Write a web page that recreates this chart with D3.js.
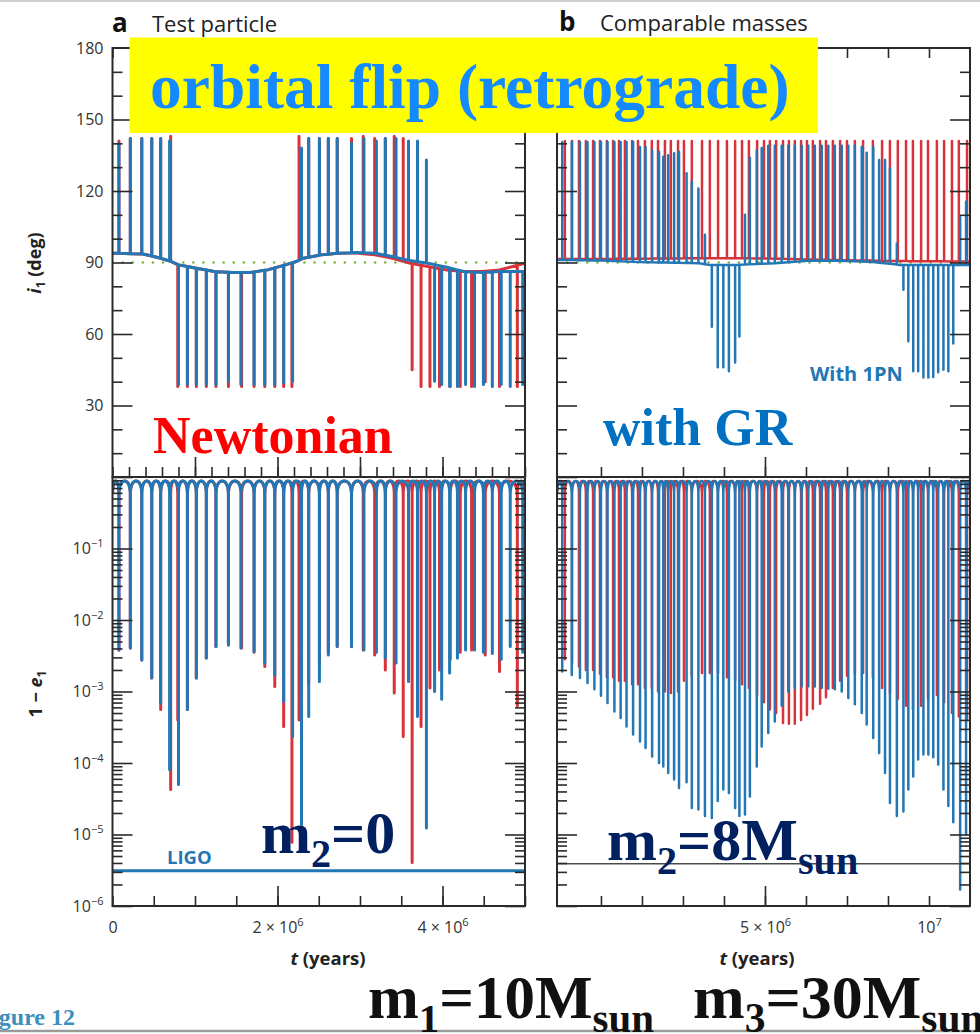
<!DOCTYPE html>
<html>
<head>
<meta charset="utf-8">
<script src="https://d3js.org/d3.v7.min.js"></script>
<style>
  html,body{margin:0;padding:0;background:#fff;}
  svg{display:block;}
</style>
</head>
<body>
<svg id="chart" width="980" height="1034" xmlns="http://www.w3.org/2000/svg"></svg>
<script>
/* ================= DATA ================= */
// axis tick values and labels
const iLabelValues = [30, 60, 90, 120, 150, 180];
const iMajorTicks  = [30, 60, 90, 120, 150];
const iMinorTicks  = [10, 20, 40, 50, 70, 80, 100, 110, 130, 140, 160, 170];
const eLabelValues = [1e-1, 1e-2, 1e-3, 1e-4, 1e-5, 1e-6];
const eLabelExps   = ["\u22121", "\u22122", "\u22123", "\u22124", "\u22125", "\u22126"];
const aXLabelValues = [0, 2e6, 4e6];
const aXLabelBase   = ["0", "2 \u00d7 10", "4 \u00d7 10"];
const aXLabelExp    = ["", "6", "6"];
const bXLabelValues = [5e6, 1e7];
const bXLabelBase   = ["5 \u00d7 10", "10"];
const bXLabelExp    = ["6", "7"];

// ---- Panel a (test particle) : inclination baseline (t in Myr, i in deg)
const aBaseT    = [0, 0.367, 0.584, 0.713, 0.800, 1.016, 1.232, 1.448, 1.664, 1.881, 2.097, 2.227, 2.313, 2.529, 2.745, 2.962, 3.178, 3.394, 3.610, 3.826, 4.042, 4.259, 4.475, 4.691, 4.850, 5.000];
const aBaseBlue = [93.9, 93.6, 91.8, 90.4, 89.0, 87.6, 86.2, 85.8, 85.8, 86.9, 89.0, 90.4, 91.8, 93.2, 93.9, 94.2, 93.9, 92.5, 90.8, 89.7, 88.1, 86.2, 85.8, 86.2, 86.2, 86.2];
const aBaseRed  = [93.9, 93.6, 91.8, 90.4, 89.0, 87.6, 86.2, 85.8, 85.8, 86.9, 89.0, 90.4, 91.8, 93.2, 93.9, 94.0, 93.2, 91.8, 89.7, 88.3, 86.9, 86.2, 86.2, 86.9, 88.3, 89.7];

// Panel a, with 1PN (blue): spike times (Myr), inclination at spike (deg), log10(1-e) at spike
const aBlueT    = [0.078, 0.216, 0.355, 0.476, 0.584, 0.692, 0.800, 0.908, 1.016, 1.137, 1.254, 1.405, 1.556, 1.716, 1.846, 1.967, 2.075, 2.183, 2.291, 2.378, 2.508, 2.616, 2.724, 2.897, 3.048, 3.199, 3.307, 3.437, 3.588, 3.697, 3.805, 3.904, 3.990, 4.086, 4.181, 4.280, 4.388, 4.496, 4.604, 4.712, 4.821, 4.972];
const aBluePeak = [140, 142, 142, 142, 142, 141, 38.8, 38.8, 38.8, 38.8, 38.8, 40.2, 38.8, 38.8, 38.8, 38.8, 39.5, 40.2, 138, 142, 142, 142, 142, 140, 142, 141, 142, 142, 141, 141, 133, 40.2, 38.8, 38, 38, 38.8, 38, 38.8, 38, 38.8, 38, 38.8];
const aBlueMin  = [-2.42, -2.39, -2.56, -2.81, -3.16, -4.09, -4.30, -3.25, -2.81, -2.53, -2.37, -2.35, -2.39, -2.44, -2.60, -2.77, -3.14, -3.63, -4.86, -3.35, -2.86, -2.49, -2.37, -2.37, -2.42, -2.45, -2.53, -2.60, -2.86, -3.35, -4.91, -3.00, -3.11, -2.74, -2.53, -2.42, -2.42, -2.45, -2.47, -2.55, -2.37, -2.45];

// Panel a, Newtonian (red)
const aRedT    = [0.078, 0.216, 0.355, 0.476, 0.584, 0.705, 0.791, 0.908, 1.016, 1.137, 1.254, 1.405, 1.565, 1.716, 1.846, 1.967, 2.075, 2.175, 2.261, 2.378, 2.508, 2.616, 2.724, 2.897, 3.039, 3.178, 3.307, 3.415, 3.524, 3.632, 3.740, 3.848, 3.964, 4.094, 4.215, 4.353, 4.518, 4.691, 4.907];
const aRedPeak = [141, 142, 142, 142, 142, 143, 38, 38, 38, 38, 38, 38, 38, 38, 38, 38, 38, 38, 143, 142, 142, 142, 142, 142, 143, 142, 142, 143, 142, 45, 38, 38, 38, 38, 38, 38, 40, 38, 38];
const aRedMin  = [-2.42, -2.39, -2.56, -2.81, -3.25, -4.37, -3.40, -3.25, -2.81, -2.53, -2.37, -2.35, -2.39, -2.45, -2.65, -2.93, -3.49, -5.11, -3.40, -2.90, -2.60, -2.45, -2.37, -2.37, -2.42, -2.49, -2.70, -3.02, -3.63, -5.39, -3.49, -2.95, -2.70, -2.55, -2.45, -2.42, -2.49, -2.72, -3.20];

// ---- Panel b (comparable masses)
const bBaseT    = [-1.34, 0, 1.2, 3.0, 3.3, 4.2, 5.3, 6.3, 7.3, 8.3, 9.1, 11.25];
const bBaseBlue = [91.1, 90.8, 90.2, 89.7, 89.0, 89.0, 89.7, 90.7, 90.7, 90.2, 89.0, 89.0];
const bBaseRed  = [91.5, 91.5, 91.6, 91.8, 91.8, 91.8, 91.6, 91.3, 91.0, 90.8, 90.6, 90.4];

const bBlueT = [-1.18, -0.89, -0.64, -0.41, -0.20, 0.00, 0.20, 0.41, 0.60, 0.78, 0.98, 1.19, 1.36, 1.56, 1.77, 1.90, 2.05, 2.23, 2.38, 2.61, 2.77, 2.97, 3.17, 3.38, 3.56, 3.73, 3.90, 4.09, 4.22, 4.39, 4.54, 4.75, 4.90, 5.10, 5.30, 5.51, 5.71, 5.91, 6.12, 6.32, 6.52, 6.73, 6.93, 7.13, 7.34, 7.54, 7.74, 7.95, 8.10, 8.30, 8.48, 8.66, 8.81, 9.02, 9.22, 9.37, 9.52, 9.67, 9.83, 9.98, 10.13, 10.28, 10.44, 10.59, 10.74, 10.95, 11.13];
const bBluePeak = [140.6, 140.6, 140.6, 140.6, 140.6, 140.6, 140.6, 140.6, 140.6, 140.6, 140.6, 138.5, 138.5, 137.0, 136.5, 134.4, 135.0, 135.8, 136.5, 127.4, 124.0, 121.0, 101.6, 63.0, 46.0, 46.0, 44.4, 48.0, 59.0, 110.0, 134.0, 137.0, 138.0, 139, 139, 139, 139, 139, 139, 139, 139, 139, 139, 139, 139, 139, 139, 138.5, 136.0, 138.5, 133.0, 133.0, 129.5, 98.0, 78.6, 57.0, 44.4, 44.4, 41.8, 41.8, 42.0, 44.0, 45.0, 44.4, 56.0, 109.0, 115.5];
const bBlueMin = [-2.72, -2.77, -2.81, -2.88, -2.97, -3.06, -3.16, -3.28, -3.37, -3.49, -3.60, -3.70, -3.79, -3.91, -4.00, -4.05, -4.14, -4.23, -4.35, -4.27, -4.63, -4.65, -4.74, -4.77, -4.53, -4.37, -4.42, -4.63, -4.74, -4.72, -4.47, -4.05, -3.77, -3.58, -3.42, -3.20, -3.00, -2.95, -2.93, -2.93, -2.93, -2.95, -2.96, -2.97, -3.00, -3.09, -3.18, -3.30, -3.46, -3.65, -3.86, -4.14, -4.56, -4.74, -4.68, -4.37, -4.19, -3.95, -3.88, -3.88, -3.92, -4.02, -4.37, -4.60, -4.83, -5.77, -5.00];

const bRedT = [-1.10, -0.88, -0.67, -0.46, -0.24, -0.03, 0.18, 0.37, 0.55, 0.73, 0.95, 1.13, 1.34, 1.55, 1.74, 1.95, 2.13, 2.35, 2.53, 2.77, 3.08, 3.32, 3.57, 3.84, 4.09, 4.30, 4.51, 4.76, 4.97, 5.15, 5.34, 5.55, 5.73, 5.91, 6.10, 6.28, 6.46, 6.68, 6.86, 7.07, 7.29, 7.50, 7.74, 7.99, 8.29, 8.57, 8.81, 9.05, 9.30, 9.51, 9.76, 9.97, 10.24, 10.46, 10.70, 10.91, 11.16];
const bRedPeak = [141, 141, 141, 141, 141, 141, 141, 141, 141, 141, 141, 141, 141, 141, 141, 141, 141, 141, 141, 141, 141, 141, 141, 141, 141, 141, 141, 141, 141, 141, 141, 141, 141, 141, 141, 141, 141, 141, 141, 141, 141, 141, 141, 141, 141, 141, 141, 141, 141, 141, 141, 141, 141, 141, 141, 141, 141];
const bRedMin = [-2.55, -2.60, -2.65, -2.70, -2.70, -2.75, -2.80, -2.80, -2.85, -2.85, -2.90, -2.90, -2.95, -2.95, -3.00, -3.00, -3.02, -3.00, -2.85, -2.78, -2.74, -2.74, -2.74, -2.80, -2.84, -2.90, -2.95, -3.05, -3.15, -3.25, -3.30, -3.44, -3.45, -3.45, -3.40, -3.33, -3.24, -3.17, -3.08, -2.95, -2.85, -2.78, -2.74, -2.74, -2.80, -2.95, -3.02, -3.10, -3.20, -3.25, -3.20, -3.10, -3.05, -3.15, -3.30, -3.35, -3.40];

// LIGO band thresholds on 1-e
const ligoA = 3.1e-6;
const ligoB = 3.9e-6;

/* ================= RENDERING ================= */
const svg = d3.select("#chart");
const SANS = "'Open Sans', 'Noto Sans', sans-serif";
const SERIF = "'Liberation Serif', 'Times New Roman', serif";
const BLUE = "#2277b4", RED = "#d8323a", AXIS = "#2a2a2a", GREEN = "#7cb548";
const eShoulder = 0.6, eArchCtrl = 1.0;   // shape of the arch between eccentricity peaks

const yI = d3.scaleLinear().domain([0, 180]).range([477, 48]);
const yE = d3.scaleLog().domain([1e-6, 1]).range([906, 477]);

const panels = [
  { id: "a", x: d3.scaleLinear().domain([0, 5e6]).range([112.5, 525]),
    baseT: aBaseT, baseBlue: aBaseBlue, baseRed: aBaseRed,
    blueT: aBlueT, bluePeak: aBluePeak, blueMin: aBlueMin,
    redT: aRedT, redPeak: aRedPeak, redMin: aRedMin, sw: 3,
    bottomMinor: d3.range(0, 5e6 + 1, 5e5), bottomMajor: [2e6, 4e6],
    midMinor: d3.range(0, 5e6 + 1, 2e5), midMajor: [1e6, 2e6, 3e6, 4e6],
    topMinor: d3.range(0, 5e6 + 1, 5e5) },
  { id: "b", x: d3.scaleLinear().domain([-1.34e6, 1.125e7]).range([557, 970]),
    baseT: bBaseT, baseBlue: bBaseBlue, baseRed: bBaseRed,
    blueT: bBlueT, bluePeak: bBluePeak, blueMin: bBlueMin,
    redT: bRedT, redPeak: bRedPeak, redMin: bRedMin, sw: 2.5,
    bottomMinor: d3.range(0, 1e7 + 1, 1.25e6), bottomMajor: [5e6],
    midMinor: d3.range(0, 1e7 + 1, 1.25e6), midMajor: [5e6],
    topMinor: d3.range(0, 1e7 + 1, 1.25e6) }
];

const defs = svg.append("defs");

function iPoints(baseT, baseV, spT, spP) {
  const bt = baseT.map(t => t * 1e6);
  const base = d3.scaleLinear().domain(bt).range(baseV).clamp(true);
  const ev = [];
  bt.forEach((t, i) => ev.push({ t, k: 0, v: baseV[i] }));
  spT.forEach((t, i) => ev.push({ t: t * 1e6, k: 1, p: spP[i] }));
  ev.sort((a, b) => a.t - b.t || a.k - b.k);
  const pts = [];
  ev.forEach(e => {
    if (e.k === 0) pts.push({ t: e.t, v: e.v });
    else { const b = base(e.t); pts.push({ t: e.t, v: b }, { t: e.t, v: e.p }, { t: e.t, v: b }); }
  });
  return pts;
}

function ePath(x, spT, spMin) {
  const p = d3.path();
  const ys = yE(eShoulder), yc = yE(eArchCtrl);
  const d0 = x.domain();
  let prev = x(d0[0]);
  p.moveTo(prev, ys);
  spT.forEach((t, i) => {
    const xi = x(t * 1e6);
    p.bezierCurveTo(prev, yc, xi, yc, xi, ys);
    p.lineTo(xi, yE(Math.pow(10, spMin[i])));
    p.lineTo(xi, ys);
    prev = xi;
  });
  const xe = x(d0[1]);
  p.bezierCurveTo(prev, yc, xe, yc, xe, ys);
  return p.toString();
}

function tickSet(axisFn, scale, values, size, tx, ty) {
  const g = svg.append("g").attr("transform", `translate(${tx},${ty})`)
    .call(axisFn(scale).tickValues(values).tickSize(size).tickFormat(""));
  g.select(".domain").remove();
  g.selectAll("line").attr("stroke", AXIS).attr("stroke-width", 1.6);
  return g;
}

panels.forEach(P => {
  const x = P.x, [x0, x1] = x.range();
  const w = x1 - x0;
  defs.append("clipPath").attr("id", "clipTop" + P.id).append("rect")
    .attr("x", x0).attr("y", yI(180)).attr("width", w).attr("height", yI(0) - yI(180));
  defs.append("clipPath").attr("id", "clipBot" + P.id).append("rect")
    .attr("x", x0).attr("y", yE(1)).attr("width", w).attr("height", yE(1e-6) - yE(1));

  const gT = svg.append("g").attr("clip-path", `url(#clipTop${P.id})`);
  gT.append("line").attr("x1", x0).attr("x2", x1).attr("y1", yI(90)).attr("y2", yI(90))
    .attr("stroke", GREEN).attr("stroke-width", 2.6).attr("stroke-dasharray", "0.1 10")
    .attr("stroke-linecap", "round");
  const lineI = d3.line().x(d => x(d.t)).y(d => yI(d.v));
  gT.append("path").attr("d", lineI(iPoints(P.baseT, P.baseRed, P.redT, P.redPeak)))
    .attr("fill", "none").attr("stroke", RED).attr("stroke-width", P.sw).attr("stroke-linejoin", "round");
  gT.append("path").attr("d", lineI(iPoints(P.baseT, P.baseBlue, P.blueT, P.bluePeak)))
    .attr("fill", "none").attr("stroke", BLUE).attr("stroke-width", P.sw).attr("stroke-linejoin", "round");

  const gB = svg.append("g").attr("clip-path", `url(#clipBot${P.id})`);
  gB.append("path").attr("d", ePath(x, P.redT, P.redMin))
    .attr("fill", "none").attr("stroke", RED).attr("stroke-width", P.sw).attr("stroke-linejoin", "round");
  gB.append("path").attr("d", ePath(x, P.blueT, P.blueMin))
    .attr("fill", "none").attr("stroke", BLUE).attr("stroke-width", P.sw).attr("stroke-linejoin", "round");
  if (P.id === "a") {
    gB.append("line").attr("x1", x0).attr("x2", x1).attr("y1", yE(ligoA)).attr("y2", yE(ligoA))
      .attr("stroke", BLUE).attr("stroke-width", 3);
  } else {
    gB.append("line").attr("x1", x0).attr("x2", x1).attr("y1", yE(ligoB)).attr("y2", yE(ligoB))
      .attr("stroke", "#4a4a4a").attr("stroke-width", 1.6);
  }

  // ticks - vertical axes
  tickSet(d3.axisLeft, yI, iMajorTicks, -20, x0, 0);
  tickSet(d3.axisLeft, yI, iMinorTicks, -10, x0, 0);
  tickSet(d3.axisRight, yI, iMajorTicks, -20, x1, 0);
  tickSet(d3.axisRight, yI, iMinorTicks, -10, x1, 0);
  const eAll = yE.ticks();
  const eMaj = eAll.filter(v => Math.abs(Math.log10(v) - Math.round(Math.log10(v))) < 1e-9);
  const eMin = eAll.filter(v => !eMaj.includes(v));
  tickSet(d3.axisLeft, yE, eMaj, -20, x0, 0);
  tickSet(d3.axisLeft, yE, eMin, -10, x0, 0);
  tickSet(d3.axisRight, yE, eMaj, -20, x1, 0);
  tickSet(d3.axisRight, yE, eMin, -10, x1, 0);
  // ticks - horizontal axes
  tickSet(d3.axisBottom, x, P.bottomMinor, -10, 0, yE(1e-6));
  tickSet(d3.axisBottom, x, P.bottomMajor, -20, 0, yE(1e-6));
  tickSet(d3.axisBottom, x, P.midMinor, -10, 0, yI(0));
  tickSet(d3.axisBottom, x, P.midMajor, -20, 0, yI(0));
  tickSet(d3.axisTop, x, P.topMinor, -10, 0, yI(180));

  // frames
  svg.append("rect").attr("x", x0).attr("y", yI(180)).attr("width", w).attr("height", yI(0) - yI(180))
    .attr("fill", "none").attr("stroke", AXIS).attr("stroke-width", 2);
  svg.append("rect").attr("x", x0).attr("y", yE(1)).attr("width", w).attr("height", yE(1e-6) - yE(1))
    .attr("fill", "none").attr("stroke", AXIS).attr("stroke-width", 2);

  // x tick labels
  const labVals = P.id === "a" ? aXLabelValues : bXLabelValues;
  const labBase = P.id === "a" ? aXLabelBase : bXLabelBase;
  const labExp = P.id === "a" ? aXLabelExp : bXLabelExp;
  const gx = svg.append("g").attr("transform", `translate(0,${yE(1e-6)})`)
    .call(d3.axisBottom(x).tickValues(labVals).tickSize(0).tickPadding(16).tickFormat(""));
  gx.select(".domain").remove();
  gx.selectAll("text").each(function (d, i) {
    const t = d3.select(this).attr("font-family", SANS).attr("font-size", 16).attr("fill", "#333");
    t.append("tspan").text(labBase[i]);
    if (labExp[i]) t.append("tspan").attr("dy", -7).attr("font-size", 11).text(labExp[i]);
  });

  // x axis title
  const tt = svg.append("text").attr("x", (P.id === "a" ? 328 : 757)).attr("y", 965)
    .attr("text-anchor", "middle").attr("font-family", SANS).attr("font-weight", "bold")
    .attr("font-size", 18.5).attr("fill", "#222");
  tt.append("tspan").attr("font-style", "italic").text("t");
  tt.append("tspan").text(" (years)");
});

// y tick labels (panel a only)
const xa0 = panels[0].x.range()[0];
const gyl = svg.append("g").attr("transform", `translate(${xa0},0)`)
  .call(d3.axisLeft(yI).tickValues(iLabelValues).tickSize(0).tickPadding(9));
gyl.select(".domain").remove();
gyl.selectAll("text").attr("font-family", SANS).attr("font-size", 16).attr("fill", "#333");

const gel = svg.append("g").attr("transform", `translate(${xa0},0)`)
  .call(d3.axisLeft(yE).tickValues(eLabelValues).tickSize(0).tickPadding(9).tickFormat(""));
gel.select(".domain").remove();
gel.selectAll("text").each(function (d, i) {
  const t = d3.select(this).attr("font-family", SANS).attr("font-size", 16).attr("fill", "#333");
  t.append("tspan").text("10");
  t.append("tspan").attr("dy", -7).attr("font-size", 11).text(eLabelExps[i]);
});

// y axis titles
const yt1 = svg.append("text").attr("transform", "translate(41,263) rotate(-90)")
  .attr("text-anchor", "middle").attr("font-family", SANS).attr("font-weight", "bold")
  .attr("font-size", 18).attr("fill", "#222");
yt1.append("tspan").attr("font-style", "italic").text("i");
yt1.append("tspan").attr("font-size", 12).attr("dy", 4).text("1");
yt1.append("tspan").attr("dy", -4).text(" (deg)");

const yt2 = svg.append("text").attr("transform", "translate(42,694) rotate(-90)")
  .attr("text-anchor", "middle").attr("font-family", SANS).attr("font-weight", "bold")
  .attr("font-size", 18).attr("fill", "#222");
yt2.append("tspan").text("1 \u2212 ");
yt2.append("tspan").attr("font-style", "italic").text("e");
yt2.append("tspan").attr("font-size", 12).attr("dy", 4).text("1");

// in-plot labels
svg.append("text").attr("x", 167).attr("y", 864).attr("font-family", SANS).attr("font-weight", "bold")
  .attr("font-size", 18.5).attr("fill", BLUE).text("LIGO");
svg.append("text").attr("x", 810).attr("y", 381).attr("font-family", SANS).attr("font-weight", "bold")
  .attr("font-size", 20).attr("fill", BLUE).text("With 1PN");

// panel headings
svg.append("text").attr("x", 112).attr("y", 32).attr("font-family", SANS).attr("font-weight", "bold")
  .attr("font-size", 26).attr("fill", "#111").text("a");
svg.append("text").attr("x", 152).attr("y", 32).attr("font-family", SANS)
  .attr("font-size", 22).attr("fill", "#222").text("Test particle");
svg.append("text").attr("x", 559).attr("y", 31).attr("font-family", SANS).attr("font-weight", "bold")
  .attr("font-size", 26).attr("fill", "#111").text("b");
svg.append("text").attr("x", 600).attr("y", 31).attr("font-family", SANS)
  .attr("font-size", 22).attr("fill", "#222").text("Comparable masses");

// page decorations
svg.append("line").attr("x1", 0).attr("x2", 980).attr("y1", 1).attr("y2", 1)
  .attr("stroke", "#d0d0d0").attr("stroke-width", 2);
svg.append("line").attr("x1", 0).attr("x2", 980).attr("y1", 1031).attr("y2", 1031)
  .attr("stroke", "#9a9a9a").attr("stroke-width", 2.5);
svg.append("text").attr("x", 75).attr("y", 1025).attr("text-anchor", "end")
  .attr("font-family", SERIF).attr("font-weight", "bold").attr("font-size", 24)
  .attr("fill", "#3d8ebd").text("Figure 12");

// overlay annotations
svg.append("rect").attr("x", 129.5).attr("y", 37.5).attr("width", 688.5).attr("height", 95.5).attr("fill", "#ffff00");
svg.append("text").attr("x", 150).attr("y", 108).attr("font-family", SERIF).attr("font-weight", "bold")
  .attr("font-size", 63.5).attr("fill", "#1589ff").text("orbital flip (retrograde)");
svg.append("text").attr("x", 153).attr("y", 453).attr("font-family", SERIF).attr("font-weight", "bold")
  .attr("font-size", 52).attr("fill", "#ff0000").text("Newtonian");
svg.append("text").attr("x", 603).attr("y", 445).attr("font-family", SERIF).attr("font-weight", "bold")
  .attr("font-size", 52).attr("fill", "#0070c0").text("with GR");

function massText(x, y, color, size, parts) {
  const t = svg.append("text").attr("x", x).attr("y", y).attr("font-family", SERIF)
    .attr("font-weight", "bold").attr("font-size", size).attr("fill", color);
  let shifted = false;
  parts.forEach(p => {
    const s = t.append("tspan").text(p.t);
    if (p.sub) { s.attr("font-size", size * 0.67).attr("dy", shifted ? 0 : 14); shifted = true; }
    else { s.attr("dy", shifted ? -14 : 0); shifted = false; }
  });
}
massText(261, 853, "#002060", 60, [{ t: "m" }, { t: "2", sub: true }, { t: "=0" }]);
massText(607, 860, "#002060", 60, [{ t: "m" }, { t: "2", sub: true }, { t: "=8M" }, { t: "sun", sub: true }]);
massText(368, 1018, "#111", 61, [{ t: "m" }, { t: "1", sub: true }, { t: "=10M" }, { t: "sun", sub: true }]);
massText(693, 1018, "#111", 62, [{ t: "m" }, { t: "3", sub: true }, { t: "=30M" }, { t: "sun", sub: true }]);
</script>
</body>
</html>
